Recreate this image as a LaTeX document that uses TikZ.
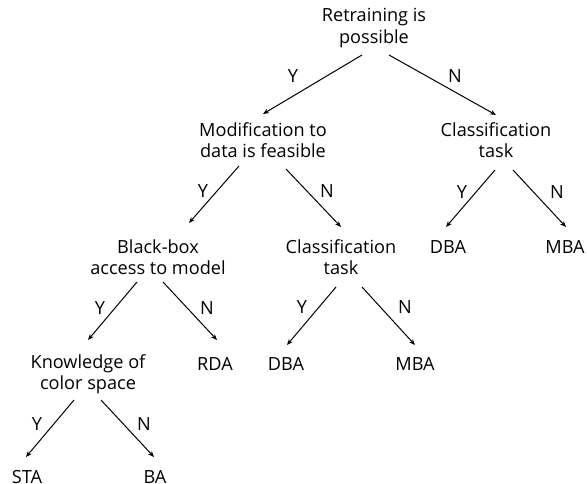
\documentclass[tikz,border=0pt]{standalone}
\usepackage{fontspec}
\setmainfont{Open Sans}
\usetikzlibrary{calc,arrows.meta}

\tikzset{every picture/.style={line width=0.75pt}}
\tikzset{
  txt/.style={inner sep=0pt, align=center, font=\fontsize{13.6}{15.8}\selectfont},
  yn/.style={inner sep=0pt, font=\fontsize{13.6}{15.8}\selectfont},
  branch/.style={-{Stealth[length=4.5pt,width=3.6pt]}}
}

\begin{document}
\begin{tikzpicture}[x=0.75pt,y=0.75pt,yscale=-1,xscale=1]
	\useasboundingbox (0,0) rectangle (587,484);

	% Text Node
	\node[txt] (root) at (374,28) {Retraining is\\possible};
	% Text Node
	\node[txt] (mod) at (263,140) {Modification to\\data is feasible};
	% Text Node
	\node[txt] (rcls) at (496,140) {Classification\\task};
	% Text Node
	\node[txt] (bbox) at (158,257) {Black-box\\access to model};
	% Text Node
	\node[txt] (mcls) at (341,257) {Classification\\task};
	% Text Node
	\node[txt] (rdba) at (448,247) {DBA};
	% Text Node
	\node[txt] (rmba) at (565,247) {MBA};
	% Text Node
	\node[txt] (know) at (88,374) {Knowledge of\\color space};
	% Text Node
	\node[txt] (rda) at (215,364) {RDA};
	% Text Node
	\node[txt] (mdba) at (286,364) {DBA};
	% Text Node
	\node[txt] (mmba) at (415,364) {MBA};
	% Text Node
	\node[txt] (sta) at (27,477) {STA};
	% Text Node
	\node[txt] (ba) at (155,477) {BA};

	%Straight Lines
	\draw[branch] ($(root)+(-12,27)$) -- ($(mod)+(0,-26)$);
	\draw[branch] ($(root)+(15,27)$) -- ($(rcls)+(0,-25)$);
	\draw[branch] ($(mod)+(-24,26)$) -- ($(bbox)+(31,-34)$);
	\draw[branch] ($(mod)+(23,29)$) -- ($(mcls)+(0,-30)$);
	\draw[branch] ($(rcls)+(-1,30)$) -- ($(rdba)+(-2,-20)$);
	\draw[branch] ($(rcls)+(17,30)$) -- ($(rmba)+(1,-20)$);
	\draw[branch] ($(bbox)+(-21,25)$) -- ($(know)+(0,-34)$);
	\draw[branch] ($(bbox)+(5,25)$) -- ($(rda)+(2,-24)$);
	\draw[branch] ($(mcls)+(-5,30)$) -- ($(mdba)+(1,-19)$);
	\draw[branch] ($(mcls)+(21,30)$) -- ($(mmba)+(0,-19)$);
	\draw[branch] ($(know)+(-14,26)$) -- ($(sta)+(-1,-20)$);
	\draw[branch] ($(know)+(13,26)$) -- ($(ba)+(-1,-20)$);

	% Text Node
	\node[yn] (y1) at (293,76) {Y};
	\node[yn] (n1) at (455,76) {N};
	\node[yn] (y2) at (203,191) {Y};
	\node[yn] (n2) at (327,191) {N};
	\node[yn] (y3) at (462,192) {Y};
	\node[yn] (n3) at (557,192) {N};
	\node[yn] (y4) at (100,308) {Y};
	\node[yn] (n4) at (207,308) {N};
	\node[yn] (y5) at (302,307) {Y};
	\node[yn] (n5) at (405,307) {N};
	\node[yn] (y6) at (37,424) {Y};
	\node[yn] (n6) at (144,424) {N};

\end{tikzpicture}
\end{document}
